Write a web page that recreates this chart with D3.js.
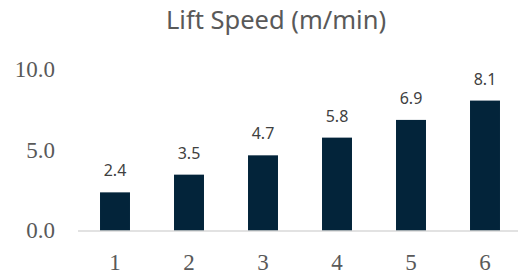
<!DOCTYPE html>
<html><head><meta charset="utf-8">
<script src="https://cdn.jsdelivr.net/npm/d3@7"></script>
<style>body{margin:0;background:#fff}svg{display:block}</style>
</head><body>
<svg id="c" width="518" height="275"></svg>
<script>
const title = "Lift Speed (m/min)";
const categories = ["1","2","3","4","5","6"];
const values = [2.4, 3.5, 4.7, 5.8, 6.9, 8.1];
const yTicks = [0, 5, 10];

const svg = d3.select("#c");
const x = d3.scaleBand().domain(categories).range([78, 522]).paddingInner(0.595).paddingOuter(0.2975);
const y = d3.scaleLinear().domain([0, 10]).range([231, 70]);

svg.append("text").attr("x", 276).attr("y", 29).attr("text-anchor", "middle")
  .attr("font-family", "Noto Sans, sans-serif").attr("font-size", 25.5).attr("fill", "#595959").text(title);

const yAxis = d3.axisLeft(y).tickValues(yTicks).tickFormat(d3.format(".1f")).tickSize(0).tickPadding(0);
const gy = svg.append("g").attr("transform", "translate(55,0)").call(yAxis);
gy.select(".domain").remove();
gy.selectAll("text").attr("font-family", "Liberation Serif, serif").attr("font-size", 23).attr("fill", "#595959").attr("dy", "0.3em");

svg.selectAll("rect.bar").data(values).join("rect").attr("class", "bar")
  .attr("x", (d, i) => x(categories[i])).attr("width", x.bandwidth())
  .attr("y", d => y(d)).attr("height", d => y(0) - y(d)).attr("fill", "#03243a");

svg.append("line").attr("x1", 78).attr("x2", 518).attr("y1", y(0)).attr("y2", y(0))
  .attr("stroke", "#d9d9d9").attr("stroke-width", 1.5);

const xAxis = d3.axisBottom(x).tickSize(0).tickPadding(0);
const gx = svg.append("g").attr("transform", `translate(0,${y(0)})`).call(xAxis);
gx.select(".domain").remove();
gx.selectAll("text").attr("font-family", "Liberation Serif, serif").attr("font-size", 23).attr("fill", "#595959").attr("y", 39).attr("dy", 0);

svg.selectAll("text.lbl").data(values).join("text").attr("class", "lbl")
  .attr("x", (d, i) => x(categories[i]) + x.bandwidth() / 2).attr("y", d => y(d) - 16)
  .attr("text-anchor", "middle").attr("font-family", "Noto Sans, sans-serif").attr("font-size", 16)
  .attr("fill", "#404040").text(d => d.toFixed(1));
</script>
</body></html>
